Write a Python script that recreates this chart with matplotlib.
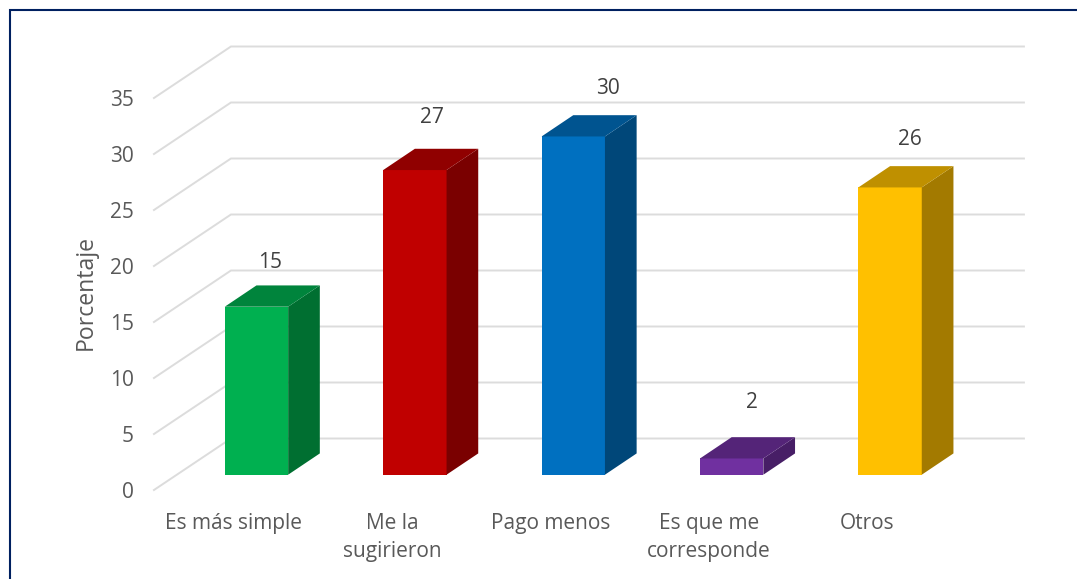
import matplotlib
matplotlib.use('Agg')
import matplotlib.pyplot as plt
from matplotlib.lines import Line2D
from matplotlib.patches import Polygon

categories = ['Es más simple', 'Me la\nsugirieron', 'Pago menos', 'Es que me\ncorresponde', 'Otros']
heights = [15, 27.2, 30.2, 1.45, 25.65]
data_labels = ['15', '27', '30', '2', '26']
y_ticks = [0, 5, 10, 15, 20, 25, 30, 35]

front_colors = ['#00B050', '#C00000', '#0070C0', '#7030A0', '#FFC000']
side_colors = ['#006F31', '#7A0000', '#004779', '#471E66', '#A37A00']
top_colors = ['#00843C', '#900000', '#005490', '#542478', '#BF9000']
# label offset from the bar's front top centre, in points
label_offsets = [(9.5, 32), (12, 38), (25, 34.5), (14.5, 40), (14.5, 34.5)]

plt.rcParams['font.family'] = ['Open Sans', 'DejaVu Sans']

fig = plt.figure(figsize=(10.77, 5.79), dpi=100)
ax = fig.add_axes([0, 0, 1, 1])
ax.set_xlim(-1.619, 5.180)
ax.set_ylim(-9.312, 42.384)
ax.axis('off')

bar_w = 0.2
depth_x, depth_y = 0.2, 1.9
wall_l, wall_r, wall_y = -0.161, 4.845, 3.232
floor_l, floor_y = -0.647, -1.366

# gridlines: along the back wall, then the slanted part on the side wall
for v in y_ticks:
    ax.plot([floor_l, wall_l, wall_r], [v + floor_y, v + wall_y, v + wall_y],
            color='#DCDCDC', lw=1.4, zorder=1, solid_joinstyle='miter')
    ax.text(-0.775, v + floor_y - 0.2, str(v), ha='right', va='center', fontsize=15, color='#595959')

for i, h in enumerate(heights):
    l, r = i - bar_w, i + bar_w
    ax.add_patch(Polygon([(l, 0), (r, 0), (r, h), (l, h)], color=front_colors[i], lw=0, zorder=3))
    ax.add_patch(Polygon([(r, 0), (r + depth_x, depth_y), (r + depth_x, h + depth_y), (r, h)],
                         color=side_colors[i], lw=0, zorder=3))
    ax.add_patch(Polygon([(l, h), (r, h), (r + depth_x, h + depth_y), (l + depth_x, h + depth_y)],
                         color=top_colors[i], lw=0, zorder=3))
    ax.annotate(data_labels[i], (i, h), xytext=label_offsets[i], textcoords='offset points',
                ha='center', va='center', fontsize=15, color='#404040')
    ax.text(i - 0.145, -3.4, categories[i], ha='center', va='top', multialignment='center',
            fontsize=15, color='#595959', linespacing=1.42)

ax.text(-1.077, 16.3, 'Porcentaje', rotation=90, ha='center', va='center', fontsize=16.6, color='#595959')

# frame around the picture, only left and top reach inside
fig.add_artist(Line2D([10 / 1077, 10 / 1077, 1], [0, 1 - 10 / 579, 1 - 10 / 579], color='#002060', lw=1.5,
                      solid_joinstyle='miter'))

fig.savefig('out.png', dpi=100)
